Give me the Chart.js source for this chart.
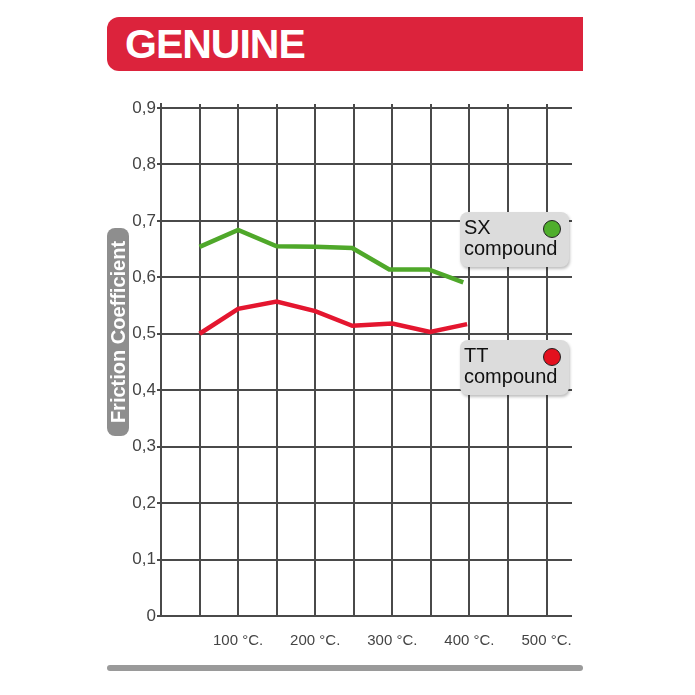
<!DOCTYPE html>
<html>
<head>
<meta charset="utf-8">
<script src="https://cdn.jsdelivr.net/npm/chart.js@4"></script>
<style>
  html,body{margin:0;padding:0;background:#fff;}
  #wrap{position:relative;width:695px;height:695px;overflow:hidden;font-family:"Liberation Sans",Arial,sans-serif;}
  canvas{position:absolute;left:0;top:0;}
  #header{position:absolute;left:107px;top:17px;width:476px;height:54px;background:#dc233c;border-radius:12px 0 0 12px;}
  #header span{position:absolute;left:18px;top:4px;color:#fff;font-weight:bold;font-size:41px;letter-spacing:-1px;line-height:46px;}
  #ytitle{position:absolute;left:107px;top:228px;width:22px;height:208px;background:#8e8e8e;border-radius:8px;}
  #ytitle span{position:absolute;left:50%;top:50%;transform:translate(-50%,-50%) rotate(-90deg);color:#fff;font-weight:bold;font-size:20px;white-space:nowrap;line-height:22px;}
  .leg{position:absolute;left:460px;width:109px;height:55px;background:#dcdcdc;border-radius:8px;box-shadow:1px 2px 3px rgba(0,0,0,0.25);}
  .leg .t{position:absolute;left:4px;top:5px;font-size:20px;line-height:21px;color:#111;}
  .leg .dot{position:absolute;left:83px;top:8px;width:16px;height:16px;border-radius:50%;border:1.5px solid #222;}
  #bottombar{position:absolute;left:107px;top:665px;width:476px;height:6px;background:#9a9a9a;border-radius:3px;}
</style>
</head>
<body>
<div id="wrap">
  <canvas id="c" width="695" height="695"></canvas>
  <div id="header"><span>GENUINE</span></div>
  <div id="ytitle"><span>Friction Coefficient</span></div>
  <div class="leg" style="top:212px"><div class="t">SX<br>compound</div><div class="dot" style="background:#4fae2c"></div></div>
  <div class="leg" style="top:340px"><div class="t">TT<br>compound</div><div class="dot" style="background:#e3101e"></div></div>
  <div id="bottombar"></div>
</div>
<script>
// Data (temperature in °C, friction coefficient)
const sxTemps = [50, 100, 150, 200, 248, 296, 347, 392];
const sxValues = [0.654, 0.684, 0.655, 0.654, 0.652, 0.614, 0.614, 0.591];
const ttTemps = [50, 100, 150, 200, 248, 300, 349, 397];
const ttValues = [0.500, 0.544, 0.557, 0.540, 0.514, 0.518, 0.503, 0.517];
const xTickValues = [100, 200, 300, 400, 500];
const yTickValues = [0, 0.1, 0.2, 0.3, 0.4, 0.5, 0.6, 0.7, 0.8, 0.9];

const toPts = (xs, ys) => xs.map((x, i) => ({x: x, y: ys[i]}));
const gridColor = '#4a4a4a';

new Chart(document.getElementById('c'), {
  type: 'line',
  data: {
    datasets: [
      {label: 'SX compound', data: toPts(sxTemps, sxValues), borderColor: '#4fa82a', borderWidth: 4.5, pointRadius: 0, tension: 0, fill: false},
      {label: 'TT compound', data: toPts(ttTemps, ttValues), borderColor: '#e4162f', borderWidth: 4.5, pointRadius: 0, tension: 0, fill: false}
    ]
  },
  options: {
    responsive: false,
    animation: false,
    events: [],
    layout: {padding: {left: 0, right: 123, top: 104, bottom: 29}},
    plugins: {legend: {display: false}, tooltip: {enabled: false}, title: {display: false}},
    scales: {
      x: {
        type: 'linear', min: 0, max: 533,
        afterBuildTicks: s => { s.ticks = []; for (let v = 0; v <= 500; v += 50) s.ticks.push({value: v}); },
        afterFit: s => { s.height = 50; },
        grid: {color: gridColor, lineWidth: 2, drawTicks: false},
        border: {display: false},
        ticks: {
          padding: 16, maxRotation: 0, autoSkip: false,
          color: '#444', font: {family: 'Liberation Sans', size: 15},
          callback: v => xTickValues.includes(v) ? v + ' °C.' : ''
        }
      },
      y: {
        type: 'linear', min: 0, max: 0.907,
        afterBuildTicks: s => { s.ticks = yTickValues.map(v => ({value: v})); },
        afterFit: s => { s.width = 161; },
        grid: {color: gridColor, lineWidth: 2, tickLength: 4, drawTicks: true},
        border: {display: true, color: gridColor, width: 2},
        ticks: {
          padding: 1, color: '#444', font: {family: 'Liberation Sans', size: 17},
          callback: v => v === 0 ? '0' : v.toFixed(1).replace('.', ',')
        }
      }
    }
  }
});
</script>
</body>
</html>
